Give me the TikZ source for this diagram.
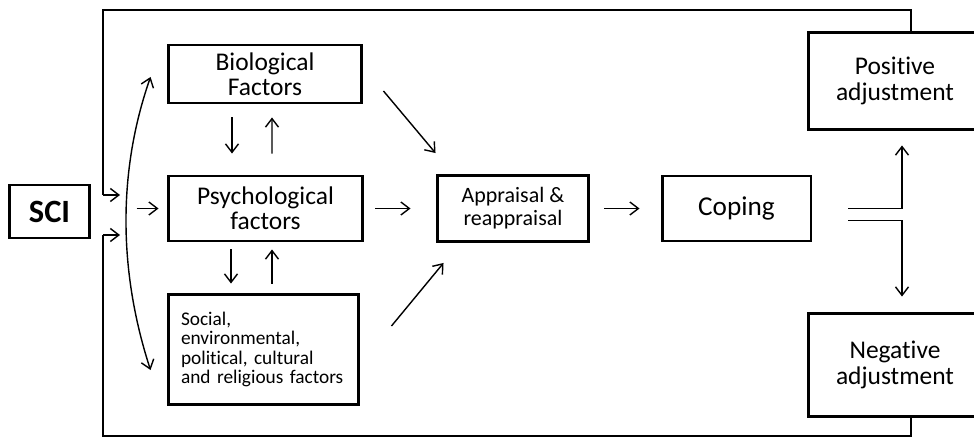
\documentclass[tikz,border=0pt]{standalone}
\usepackage{fontspec}
\setmainfont{Carlito}[Ligatures=NoCommon]
\usetikzlibrary{arrows.meta,calc}
\begin{document}
\begin{tikzpicture}[x=0.02cm,y=-0.02cm,
  box/.style={draw,line width=1.7pt,align=center,inner sep=0pt},
  arr/.style={line width=0.8pt,-{Straight Barb[length=1.7mm,width=2.6mm]}},
  darr/.style={line width=0.8pt,{Straight Barb[length=1.7mm,width=2.6mm]}-{Straight Barb[length=1.7mm,width=2.6mm]}},
  loopline/.style={line width=0.9pt},
  bigtxt/.style={font=\fontsize{14.5pt}{14.5pt}\selectfont},
  copetxt/.style={font=\fontsize{15.5pt}{15.5pt}\selectfont},
  midtxt/.style={font=\fontsize{12.5pt}{13pt}\selectfont},
  smalltxt/.style={font=\fontsize{11pt}{11pt}\selectfont}
]
\useasboundingbox (0,0) rectangle (974,439);
\clip (0,0) rectangle (974,439);

% nodes
\node[box,minimum width=1.62cm,minimum height=1.06cm,font=\fontsize{18.5pt}{19pt}\selectfont\bfseries] (sci) at (49.5,211.5) {SCI};
\node[box,bigtxt,minimum width=3.88cm,minimum height=1.16cm] (bio) at (265,74) {Biological\\Factors};
\node[box,bigtxt,minimum width=3.9cm,minimum height=1.3cm] (psych) at (265.5,208.5) {Psychological\\factors};
\node[box,smalltxt,minimum width=3.82cm,minimum height=2.22cm,text width=3.3cm,align=left] (social) at (263.5,349.5) {Social,\\environmental,\\political, cultural\\and religious factors};
\node[box,midtxt,minimum width=3.04cm,minimum height=1.32cm] (app) at (513,208.5) {Appraisal \&\\reappraisal};
\node[box,copetxt,minimum width=2.98cm,minimum height=1.3cm] (cop) at (736.5,208.5) {Coping};
\node[box,bigtxt,minimum width=3.48cm,minimum height=1.96cm] (pos) at (895,81) {Positive\\adjustment};
\node[box,bigtxt,minimum width=3.48cm,minimum height=2.08cm] (neg) at (895,365) {Negative\\adjustment};

% feedback loop
\coordinate (loopTL) at (103,10);
\coordinate (loopBL) at (103,436);
\coordinate (inTop) at (120,195);
\coordinate (inBot) at (120,235);
\draw[loopline] ($(pos.north)+(16,0)$) |- (loopTL) -- (loopTL |- inTop);
\draw[arr] (loopTL |- inTop) -- (inTop);
\draw[loopline] ($(neg.south)+(16,0)$) |- (loopBL) -- (loopBL |- inBot);
\draw[arr] (loopBL |- inBot) -- (inBot);

% curved double arrow
\coordinate (cTop) at ($(bio.west)+(-16,3)$);
\coordinate (cBot) at ($(social.west)+(-16,20.5)$);
\draw[darr] (cTop) .. controls (118,170) and (118,270) .. (cBot);

% into psych
\draw[arr] ($(psych.west)+(-30,0)$) -- ($(psych.west)+(-8,0)$);

% bio <-> psych
\draw[arr] ($(bio.south)+(-33,13)$) -- ($(psych.north)+(-33.5,-21)$);
\draw[arr] ($(psych.north)+(6.5,-21)$) -- ($(bio.south)+(7,13)$);
% psych <-> social
\draw[arr] ($(psych.south)+(-34.5,7)$) -- ($(social.north)+(-32.5,-9)$);
\draw[arr] ($(social.north)+(8.5,-9)$) -- ($(psych.south)+(6.5,7)$);

% to appraisal
\draw[arr] ($(bio.east)+(20,17)$) -- ($(app.north west)+(0,-21)$);
\draw[arr] ($(psych.east)+(11,0)$) -- ($(app.west)+(-25,0)$);
\draw[arr] ($(social.east)+(31,-23.5)$) -- ($(app.south west)+(8,20)$);

% appraisal -> coping
\draw[arr] ($(app.east)+(14,0)$) -- ($(cop.west)+(-21,0)$);

% split
\draw[arr] ($(cop.east)+(36,0)$) -| ($(pos.south)+(7,14)$);
\draw[arr] ($(cop.east)+(36,12)$) -| ($(neg.north)+(7,-15)$);
\end{tikzpicture}
\end{document}
